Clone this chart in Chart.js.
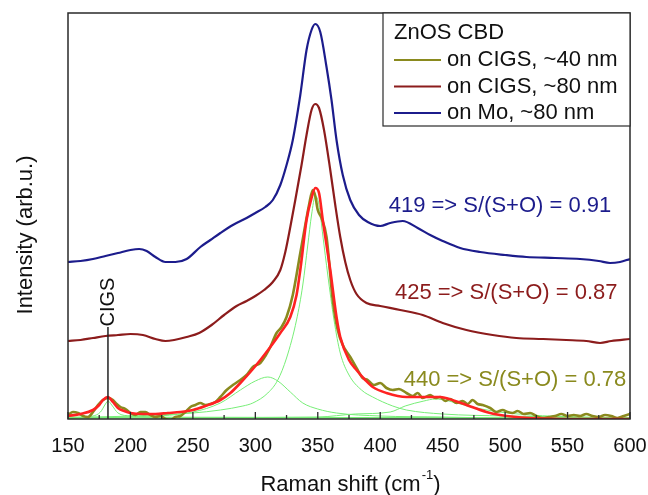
<!DOCTYPE html>
<html>
<head>
<meta charset="utf-8">
<script src="https://cdn.jsdelivr.net/npm/chart.js@4.4.0/dist/chart.umd.min.js"></script>
<style>
    html, body { margin: 0; padding: 0; background: #ffffff; }
    #wrap { width: 648px; height: 495px; }
</style>
</head>
<body>
<div id="wrap"><canvas id="ramanChart" width="648" height="495"></canvas></div>
<script>
// Raman spectra, ZnOS CBD layers (intensity in arbitrary units, offset curves)
const moShift = [150, 160, 170, 180, 190, 200, 207, 213, 220, 228, 236, 245, 256, 264, 272, 282, 293, 300, 308, 314, 320, 325, 330, 336, 341, 345, 348, 352, 357, 361, 365, 370, 376, 383, 390, 400, 408, 418, 430, 440, 450, 464, 480, 500, 517, 540, 560, 575, 584, 592, 600];
const moIntensity = [157, 158, 160, 163, 166, 169, 170, 168, 162, 157, 157, 160, 172, 179, 186, 194, 201, 206, 212, 219, 234, 254, 279, 324, 369, 389, 395, 387, 352, 319, 279, 244, 219, 204, 197, 193, 196, 198, 191, 184, 178, 171, 167, 164, 162, 161, 160, 158, 156, 157, 160];

const cigs80Shift = [150, 160, 170, 180, 190, 200, 210, 220, 228, 235, 245, 255, 265, 275, 285, 293, 300, 307, 314, 320, 324, 328, 332, 337, 341, 345, 348, 351, 355, 360, 364, 368, 372, 376, 381, 389, 400, 416, 434, 450, 469, 490, 509, 530, 549, 565, 576, 585, 600];
const cigs80Intensity = [78, 79, 81, 83, 84, 85, 84, 80, 78, 79, 82, 86, 94, 104, 113, 118, 123, 129, 137, 149, 167, 192, 219, 254, 284, 309, 315, 311, 289, 249, 214, 182, 157, 139, 125, 116, 113, 109, 104, 96, 89, 84, 81, 80, 79, 78, 76, 78, 80];

const cigs40Shift = [150, 154, 158, 162, 166, 170, 174, 178, 182, 186, 189, 192, 196, 200, 204, 208, 212, 216, 220, 224, 228, 232, 236, 240, 244, 248, 252, 256, 260, 264, 268, 272, 277, 282, 288, 293, 298, 304, 308, 312, 317, 321, 325, 330, 336, 340, 343, 346, 348, 350, 353, 357, 362, 366, 370, 376, 381, 386, 390, 395, 400, 405, 410, 415, 421, 426, 430, 434, 440, 444, 448, 452, 456, 461, 466, 470, 474, 478, 482, 488, 493, 498, 502, 506, 510, 515, 520, 525, 530, 535, 540, 545, 550, 555, 560, 565, 570, 575, 580, 585, 590, 595, 600];
const cigs40Intensity = [4, 7, 6, 3, 2, 7, 14, 19, 21, 19, 15, 12, 10, 6, 4, 7, 7, 4, 2, 3, 0, -1, 2, 3, 7, 12, 14, 16, 14, 15, 17, 22, 29, 34, 39, 44, 52, 56, 63, 72, 86, 92, 102, 124, 166, 194, 214, 229, 223, 209, 201, 182, 119, 89, 74, 62, 51, 41, 39, 34, 36, 31, 29, 30, 26, 23, 26, 21, 24, 21, 22, 18, 20, 16, 18, 15, 19, 15, 14, 11, 7, 9, 7, 6, 8, 5, 6, 3, 1, 2, 3, 5, 3, 4, 3, 5, 3, 2, 4, 3, 1, 3, 5];

// Fit envelope and its components
const fitShift = [150, 160, 170, 175, 178, 182, 186, 190, 195, 200, 210, 220, 230, 240, 250, 260, 272, 280, 288, 296, 304, 312, 320, 328, 333, 336, 341, 345, 348, 351, 354, 357, 360, 365, 368, 375, 381, 388, 394, 405, 421, 435, 448, 460, 469, 485, 496, 520, 560, 600];
const fitIntensity = [3, 5, 9, 14, 19, 22, 17, 11, 8, 6, 5, 5, 6, 7, 9, 13, 19, 26, 36, 47, 59, 72, 86, 102, 124, 149, 199, 221, 231, 226, 199, 174, 149, 102, 82, 59, 49, 39, 32, 26, 22, 22, 22, 18, 14, 7, 4, 1, 0, 0];

const peak348Shift = [150, 200, 250, 272, 290, 298, 310, 318, 325, 333, 338, 342, 345, 348, 351, 354, 358, 363, 368, 375, 385, 394, 410, 421, 450, 500, 550, 600];
const peak348Intensity = [1, 3, 6, 9, 13, 16, 26, 39, 61, 99, 134, 174, 204, 223, 214, 184, 144, 99, 66, 44, 29, 22, 13, 9, 5, 3, 2, 1];

const peak310Shift = [150, 200, 250, 272, 288, 300, 310, 318, 328, 338, 350, 365, 400, 450, 500, 600];
const peak310Intensity = [1, 2, 7, 16, 29, 38, 42, 38, 27, 16, 10, 6, 3, 2, 1, 1];

const peak440Shift = [150, 350, 380, 408, 420, 435, 444, 455, 470, 490, 520, 560, 600];
const peak440Intensity = [1, 2, 5, 7, 13, 18, 20, 18, 13, 8, 4, 2, 1];

const peak182Shift = [150, 170, 176, 180, 182, 185, 190, 200, 230, 600];
const peak182Intensity = [1, 3, 7, 15, 18, 14, 6, 3, 1, 1];

const baseShift = [150, 600];
const baseIntensity = [2, 1];

const xTicks = [150, 200, 250, 300, 350, 400, 450, 500, 550, 600];
const xMinorTicks = [175, 225, 275, 325, 375, 425, 475, 525, 575];

const cigsMarker = { shift: 182, top: 92, labelAt: 117 };

const notes = [
    { text: '419 => S/(S+O) = 0.91', color: '#1c1c8c', x: 585, y: 213 },
    { text: '425 => S/(S+O) = 0.87', color: '#8c1c1c', x: 590, y: 126 },
    { text: '440 => S/(S+O) = 0.78', color: '#8a8a1e', x: 597, y: 39 }
];

const FONT = '"Liberation Sans", Arial, sans-serif';

const toPoints = (xs, ys) => xs.map((x, i) => ({ x: x, y: ys[i] }));

const lineSet = (label, xs, ys, color, width, order, legend) => ({
    label: label,
    data: toPoints(xs, ys),
    borderColor: color,
    backgroundColor: color,
    borderWidth: width,
    pointRadius: 0,
    cubicInterpolationMode: 'monotone',
    fill: false,
    order: order,
    inLegend: legend
});

// Frame, inward ticks, legend box and text annotations
const decorPlugin = {
    id: 'decor',
    afterDatasetsDraw(chart) {
        const { ctx, chartArea: a, scales: { x, y } } = chart;
        ctx.save();

        // CIGS marker line + label
        const cx = x.getPixelForValue(cigsMarker.shift);
        ctx.strokeStyle = '#222';
        ctx.lineWidth = 1.5;
        ctx.beginPath();
        ctx.moveTo(cx, a.bottom);
        ctx.lineTo(cx, y.getPixelForValue(cigsMarker.top));
        ctx.stroke();
        ctx.save();
        ctx.translate(cx + 1, y.getPixelForValue(cigsMarker.labelAt));
        ctx.rotate(-Math.PI / 2);
        ctx.fillStyle = '#111';
        ctx.font = '20px ' + FONT;
        ctx.textAlign = 'center';
        ctx.textBaseline = 'middle';
        ctx.fillText('CIGS', 0, 0);
        ctx.restore();

        // annotations
        ctx.font = '22px ' + FONT;
        ctx.textAlign = 'right';
        ctx.textBaseline = 'middle';
        notes.forEach(n => {
            ctx.fillStyle = n.color;
            ctx.fillText(n.text, x.getPixelForValue(n.x), y.getPixelForValue(n.y));
        });

        // frame
        ctx.strokeStyle = '#2a2a2a';
        ctx.lineWidth = 1.5;
        ctx.strokeRect(a.left, a.top, a.right - a.left, a.bottom - a.top);

        // inward ticks on the bottom axis
        ctx.lineWidth = 1.3;
        ctx.beginPath();
        xTicks.forEach(v => {
            const px = x.getPixelForValue(v);
            ctx.moveTo(px, a.bottom);
            ctx.lineTo(px, a.bottom - 7);
        });
        xMinorTicks.forEach(v => {
            const px = x.getPixelForValue(v);
            ctx.moveTo(px, a.bottom);
            ctx.lineTo(px, a.bottom - 4);
        });
        ctx.stroke();

        // legend box
        const lx = 383, ly = a.top, lw = a.right - 383, lh = 113;
        ctx.fillStyle = '#ffffff';
        ctx.fillRect(lx, ly, lw, lh);
        ctx.strokeStyle = '#2a2a2a';
        ctx.lineWidth = 1.2;
        ctx.strokeRect(lx, ly, lw, lh);
        ctx.fillStyle = '#111';
        ctx.font = '22px ' + FONT;
        ctx.textAlign = 'left';
        ctx.textBaseline = 'middle';
        ctx.fillText('ZnOS CBD', 394, 33);
        const items = chart.data.datasets.filter(d => d.inLegend);
        items.forEach((d, i) => {
            const yy = 60 + i * 26.5;
            ctx.strokeStyle = d.borderColor;
            ctx.lineWidth = 2;
            ctx.beginPath();
            ctx.moveTo(394, yy);
            ctx.lineTo(441, yy);
            ctx.stroke();
            ctx.fillStyle = '#111';
            ctx.fillText(d.label, 447, yy);
        });

        // axis titles
        ctx.save();
        ctx.translate(26, 235);
        ctx.rotate(-Math.PI / 2);
        ctx.textAlign = 'center';
        ctx.fillText('Intensity (arb.u.)', 0, 0);
        ctx.restore();

        const main = 'Raman shift (cm';
        const sup = '-1';
        ctx.font = '22px ' + FONT;
        const w1 = ctx.measureText(main).width;
        const w3 = ctx.measureText(')').width;
        ctx.font = '13px ' + FONT;
        const w2 = ctx.measureText(sup).width;
        let sx = 350 - (w1 + w2 + w3) / 2;
        const ty = 485;
        ctx.textAlign = 'left';
        ctx.font = '22px ' + FONT;
        ctx.fillText(main, sx, ty);
        ctx.font = '13px ' + FONT;
        ctx.fillText(sup, sx + w1 + 1, ty - 10);
        ctx.font = '22px ' + FONT;
        ctx.fillText(')', sx + w1 + w2 + 1, ty);

        ctx.restore();
    }
};

const ramanChart = new Chart(document.getElementById('ramanChart'), {
    type: 'line',
    data: {
        datasets: [
            lineSet('on CIGS, ~40 nm', cigs40Shift, cigs40Intensity, '#8a8a1e', 2.6, 3, true),
            lineSet('on CIGS, ~80 nm', cigs80Shift, cigs80Intensity, '#8c1c1c', 2.2, 5, true),
            lineSet('on Mo, ~80 nm', moShift, moIntensity, '#1c1c8c', 2.2, 6, true),
            lineSet('fit', fitShift, fitIntensity, '#ff2222', 2.6, 1, false),
            lineSet('348', peak348Shift, peak348Intensity, '#77ee77', 1, 4, false),
            lineSet('310', peak310Shift, peak310Intensity, '#77ee77', 1, 4, false),
            lineSet('440', peak440Shift, peak440Intensity, '#77ee77', 1, 4, false),
            lineSet('182', peak182Shift, peak182Intensity, '#77ee77', 1, 4, false),
            lineSet('base', baseShift, baseIntensity, '#77ee77', 1.2, 4, false)
        ]
    },
    options: {
        responsive: false,
        animation: false,
        layout: { padding: { left: 0, right: 18, top: 13, bottom: 0 } },
        plugins: {
            legend: { display: false },
            tooltip: { enabled: false }
        },
        scales: {
            x: {
                type: 'linear',
                min: 150,
                max: 600,
                grid: { display: false, drawTicks: false },
                border: { display: false },
                ticks: {
                    stepSize: 50,
                    padding: 15,
                    color: '#111',
                    font: { family: FONT, size: 20 }
                },
                afterFit: (scale) => {
                    scale.height = 76;
                    scale.paddingLeft = 0;
                    scale.paddingRight = 0;
                }
            },
            y: {
                type: 'linear',
                min: 0,
                max: 406,
                grid: { display: false, drawTicks: false },
                border: { display: false },
                ticks: { display: false },
                afterFit: (scale) => { scale.width = 68; }
            }
        }
    },
    plugins: [decorPlugin]
});
</script>
</body>
</html>
